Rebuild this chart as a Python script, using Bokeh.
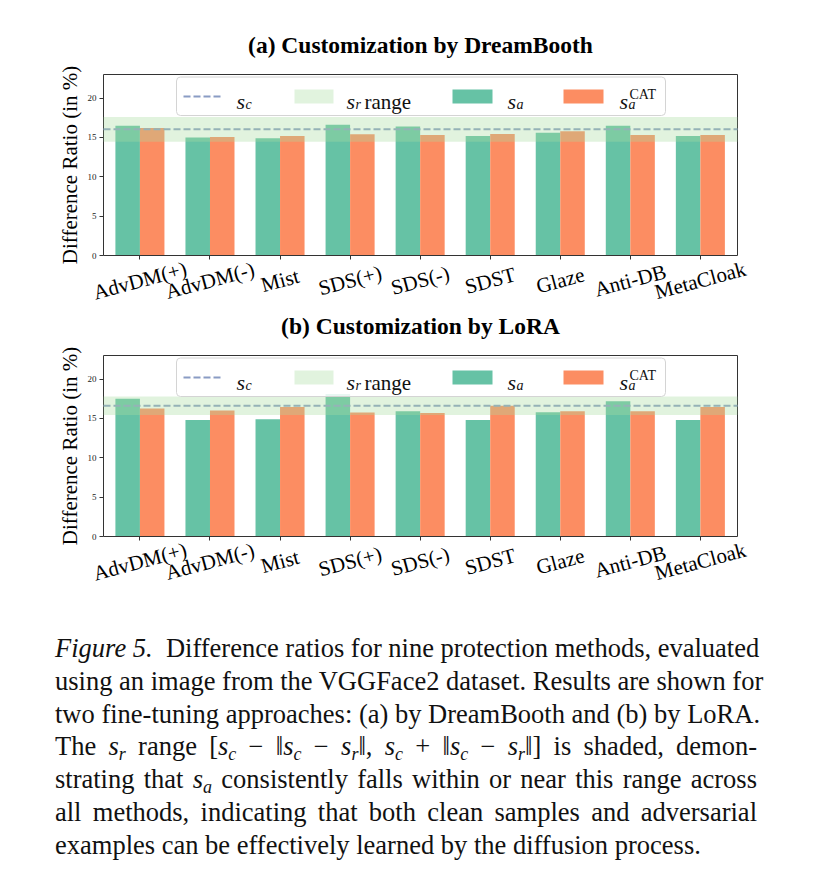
from bokeh.plotting import figure
from bokeh.models import (ColumnDataSource, BoxAnnotation, Label, LinearAxis,
                          FixedTicker, Range1d, Div)
from bokeh.transform import dodge
from bokeh.layouts import column
from bokeh.embed import file_html
from bokeh.resources import INLINE

# ---------------- data ----------------
categories = ["AdvDM(+)", "AdvDM(-)", "Mist", "SDS(+)", "SDS(-)", "SDST", "Glaze", "Anti-DB", "MetaCloak"]

db_sa = [16.5, 15.0, 14.9, 16.6, 16.4, 15.2, 15.6, 16.5, 15.2]
db_sa_cat = [16.2, 15.05, 15.2, 15.4, 15.3, 15.45, 15.8, 15.3, 15.3]
db_sc = 16.05
db_sr_low = 14.45
db_sr_high = 17.6

lora_sa = [17.5, 14.8, 14.9, 18.1, 15.9, 14.8, 15.8, 17.2, 14.8]
lora_sa_cat = [16.25, 16.0, 16.45, 15.75, 15.7, 16.6, 15.9, 15.9, 16.45]
lora_sc = 16.6
lora_sr_low = 15.45
lora_sr_high = 17.8

y_ticks = [0, 5, 10, 15, 20]
titles = ["(a) Customization by DreamBooth", "(b) Customization by LoRA"]
y_label = "Difference Ratio (in %)"

# ---------------- style ----------------
FONT = "Liberation Serif"
GREEN = "#66c2a5"
ORANGE = "#fc8d62"
BAND = "#a8dca0"
BAND_ALPHA = 0.35
DASH = "#8a9cc4"
AX = "#333333"

W = 795
BORDER_L = 50          # frame starts here; the axes box starts further right
PAD_L = 53             # px between frame left and the left spine
PAD_R = 53             # px between right spine and frame right
PAD_T = 12             # px of frame above the top spine
BOX_W = 634            # pixel width of the axes box
AXES_H = 181           # pixel height of the 0..23 value area
LABEL_H = 48           # extra frame area below y=0 for the rotated category labels
X_START, X_END = -0.52, 8.53
Y_START, Y_END = 0, 23
PX_PER_X = BOX_W / (X_END - X_START)
PX_PER_Y = AXES_H / (Y_END - Y_START)
Y_LO = Y_START - LABEL_H / PX_PER_Y
Y_HI = Y_END + PAD_T / PX_PER_Y
X_LO = X_START - PAD_L / PX_PER_X
X_HI = X_END + PAD_R / PX_PER_X
BAR_W = 0.35


def fx(px):
    return X_START + px / PX_PER_X


def fy(py):
    return Y_END - py / PX_PER_Y


def add_legend(p):
    p.add_layout(BoxAnnotation(left=fx(73), right=fx(562), top=fy(2.5), bottom=fy(41),
                               fill_color="white", fill_alpha=0.85,
                               line_color="#d4d4d4", line_alpha=1, line_width=1,
                               border_radius=4))
    p.add_layout(BoxAnnotation(left=fx(191), right=fx(230), top=fy(15), bottom=fy(29),
                               fill_color=BAND, fill_alpha=BAND_ALPHA, line_alpha=0))
    p.add_layout(BoxAnnotation(left=fx(349), right=fx(389), top=fy(15), bottom=fy(29),
                               fill_color=GREEN, fill_alpha=1, line_alpha=0))
    p.add_layout(BoxAnnotation(left=fx(460), right=fx(500), top=fy(15), bottom=fy(29),
                               fill_color=ORANGE, fill_alpha=1, line_alpha=0))
    p.segment(x0=[fx(80)], y0=[fy(22)], x1=[fx(120)], y1=[fy(22)],
              line_color=DASH, line_width=2, line_dash="7 3", level="overlay")

    def lab(px, py, text, size, italic=True):
        p.add_layout(Label(x=fx(px), y=fy(py), text=text, text_font=FONT,
                           text_font_size=size,
                           text_font_style="italic" if italic else "normal",
                           text_color="#111111", text_baseline="alphabetic",
                           text_align="left"))

    lab(133, 27, "s", "22px")
    lab(142, 30, "c", "14px")
    lab(243, 27, "s", "22px")
    lab(252, 30, "r", "14px")
    lab(261, 27, "range", "21px", italic=False)
    lab(404, 27, "s", "22px")
    lab(413, 30, "a", "14px")
    lab(516, 27, "s", "22px")
    lab(525, 30, "a", "14px")
    lab(526, 20, "CAT", "14px", italic=False)


def make_plot(title, sa, sa_cat, sc, sr_low, sr_high, top_border, bottom_border):
    frame_h = PAD_T + AXES_H + LABEL_H
    height = top_border + frame_h + bottom_border
    frame_w = PAD_L + BOX_W + PAD_R
    p = figure(width=W, height=height, output_backend="svg", toolbar_location=None,
               x_range=Range1d(X_LO, X_HI), y_range=Range1d(Y_LO, Y_HI),
               min_border_left=BORDER_L, min_border_right=W - BORDER_L - frame_w,
               min_border_top=top_border, min_border_bottom=bottom_border,
               background_fill_color="white", border_fill_color="white")
    p.title.text = title
    p.title.text_font = FONT
    p.title.text_font_style = "bold"
    p.title.text_font_size = "23.5px"
    p.title.align = "center"
    p.title.text_color = "#000000"
    p.title.standoff = 9

    p.outline_line_color = None
    p.xgrid.visible = False
    p.ygrid.visible = False

    pos = list(range(len(categories)))
    src = ColumnDataSource(dict(x=pos, cat=categories, sa=sa, cat_v=sa_cat))
    p.vbar(x=dodge("x", -BAR_W / 2, range=p.x_range), top="sa", width=BAR_W,
           source=src, fill_color=GREEN, line_color=None)
    p.vbar(x=dodge("x", BAR_W / 2, range=p.x_range), top="cat_v", width=BAR_W,
           source=src, fill_color=ORANGE, line_color=None)

    p.add_layout(BoxAnnotation(bottom=sr_low, top=sr_high, left=X_START, right=X_END,
                               fill_color=BAND, fill_alpha=BAND_ALPHA, line_alpha=0))
    p.segment(x0=[X_START], y0=[sc], x1=[X_END], y1=[sc], line_color=DASH,
              line_width=2, line_dash="7 3", level="annotation")

    # bottom axis sits at y = 0 inside the frame
    xa = p.xaxis[0]
    xa.fixed_location = Y_START
    xa.bounds = (X_START, X_END)
    xa.ticker = FixedTicker(ticks=pos)
    xa.major_label_overrides = {i: "" for i in pos}
    xa.major_tick_out = 4
    xa.major_tick_in = 0
    xa.minor_tick_line_color = None
    xa.axis_line_color = AX
    xa.major_tick_line_color = AX

    ya = p.yaxis[0]
    ya.fixed_location = X_START
    ya.bounds = (Y_START, Y_END)
    ya.ticker = FixedTicker(ticks=y_ticks)
    ya.major_tick_out = 4
    ya.major_tick_in = 0
    ya.minor_tick_line_color = None
    ya.axis_line_color = AX
    ya.major_tick_line_color = AX
    ya.major_label_text_font = FONT
    ya.major_label_text_font_size = "9px"
    ya.major_label_text_color = "#222222"
    ya.major_label_standoff = 3
    ya.axis_label = y_label
    ya.axis_label_text_font = FONT
    ya.axis_label_text_font_style = "normal"
    ya.axis_label_text_font_size = "21px"
    ya.axis_label_text_color = "#000000"
    ya.axis_label_standoff = 3

    # top and right spines of the axes box
    top_ax = LinearAxis(ticker=FixedTicker(ticks=[]), axis_line_color=AX,
                        major_tick_line_color=None, minor_tick_line_color=None,
                        bounds=(X_START, X_END), fixed_location=Y_END)
    p.add_layout(top_ax, "above")
    right_ax = LinearAxis(ticker=FixedTicker(ticks=[]), axis_line_color=AX,
                          major_tick_line_color=None, minor_tick_line_color=None,
                          bounds=(Y_START, Y_END), fixed_location=X_END)
    p.add_layout(right_ax, "right")

    # rotated category labels, centred under each tick
    for xi, name in zip(pos, categories):
        p.add_layout(Label(x=xi, y=Y_START, text=name, y_offset=-25,
                           angle=15, angle_units="deg", text_align="center",
                           text_baseline="middle", text_font=FONT,
                           text_font_size="21px", text_color="#000000"))
    add_legend(p)
    return p


pa = make_plot(titles[0], db_sa, db_sa_cat, db_sc, db_sr_low, db_sr_high, 74 - PAD_T, 2)
pb = make_plot(titles[1], lora_sa, lora_sa_cat, lora_sc, lora_sr_low, lora_sr_high, 50 - PAD_T, 10)

caption_lines = [
    "<i>Figure 5.</i>&nbsp; Difference ratios for nine protection methods, evaluated",
    "using an image from the VGGFace2 dataset. Results are shown for",
    "two fine-tuning approaches: (a) by DreamBooth and (b) by LoRA.",
    "The <i>s<sub>r</sub></i> range [<i>s<sub>c</sub></i> &minus; &#8214;<i>s<sub>c</sub></i> &minus; "
    "<i>s<sub>r</sub></i>&#8214;, <i>s<sub>c</sub></i> + &#8214;<i>s<sub>c</sub></i> &minus; "
    "<i>s<sub>r</sub></i>&#8214;] is shaded, demon-",
    "strating that <i>s<sub>a</sub></i> consistently falls within or near this range across",
    "all methods, indicating that both clean samples and adversarial",
    "examples can be effectively learned by the diffusion process.",
]
html_lines = []
for i, ln in enumerate(caption_lines):
    last = i == len(caption_lines) - 1
    align = "left" if last else "justify"
    html_lines.append(
        f'<div style="text-align:{align};text-align-last:{align};white-space:nowrap;">{ln}</div>')
caption_html = (
    '<style>sub{font-size:0.68em;line-height:0;vertical-align:-0.25em;}</style>'
    '<div style="font-family:\'Liberation Serif\',serif;font-size:26.5px;'
    'line-height:32.8px;color:#111;width:702px;">' + "".join(html_lines) + "</div>")
cap = Div(text=caption_html, width=702, margin=(38, 0, 0, 55))

layout = column(pa, pb, cap)
open("out.html", "w").write(file_html(layout, INLINE))
